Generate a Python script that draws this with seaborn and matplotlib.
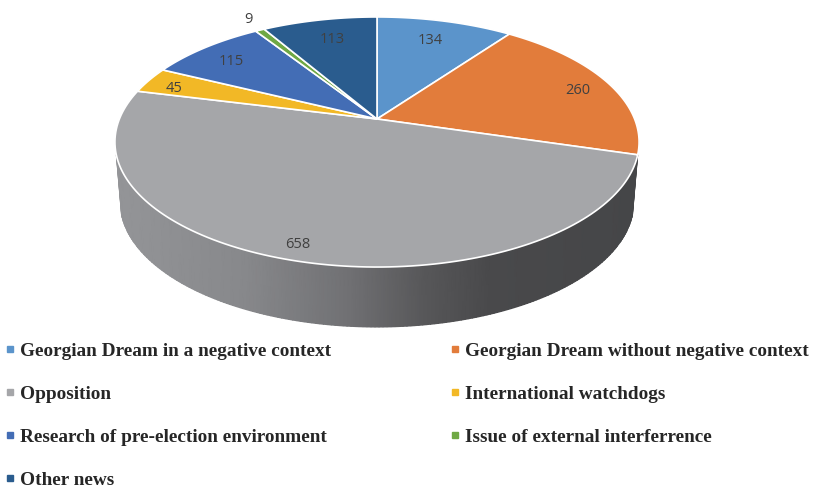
import numpy as np
import matplotlib
matplotlib.use("Agg")
import matplotlib.pyplot as plt
from matplotlib.colors import LinearSegmentedColormap
from matplotlib.lines import Line2D
from matplotlib.path import Path
from matplotlib.transforms import Affine2D, Transform
import seaborn as sns

categories = ["Georgian Dream in a negative context", "Georgian Dream without negative context",
              "Opposition", "International watchdogs", "Research of pre-election environment",
              "Issue of external interferrence", "Other news"]
values = [134, 260, 658, 45, 115, 9, 113]
slice_colors = ["#5B94CB", "#E27C3B", "#A5A6A9", "#F2B826", "#436DB5", "#6FA844", "#2A5C8E"]

# layout of the tilted disc, in pixels
cx, cy = 377, 119
rx, ry = 257.6, 120.8
tilt = 0.184
depth = 60
label_r = [0.79, 0.86, 0.88, 0.87, 0.83, 1.14, 0.76]
label_nudge = [(-2, 1), (1, 3), (-9, 4), (-3, 4), (0, 3), (2, 0), (1, -1)]


def project(u, v):
    w = 1 + tilt * v
    return cx + rx * u / w, cy - ry * v / w


class Tilted(Transform):
    input_dims = 2
    output_dims = 2

    def transform_non_affine(self, xy):
        xy = np.asarray(xy, dtype=float)
        x, y = project(xy[:, 0], xy[:, 1])
        return np.column_stack([x, y])

    def transform_path_non_affine(self, path):
        # flatten the arc first, bezier control points do not survive the perspective
        big = Affine2D().scale(2000).transform_path(path)
        poly = big.to_polygons(closed_only=False)[0] / 2000
        flat = Path(poly).interpolated(6)
        return Path(self.transform_non_affine(flat.vertices))


sns.set_theme(style="white")
plt.rcParams["font.family"] = ["Open Sans", "DejaVu Sans"]
palette = sns.color_palette(slice_colors)

fig, ax = plt.subplots(figsize=(8.16, 4.88), dpi=100)
fig.subplots_adjust(left=0, right=1, top=1, bottom=0)

# side wall of the disc
side = np.arccos(-0.28)
phi = np.linspace(side, 2 * np.pi - side, 200)
tx, ty = project(np.sin(phi), np.cos(phi))
bx = cx + (tx - cx) * 0.98
by = ty + depth
X = np.vstack([tx, bx])
Y = np.vstack([ty, by])
wall = LinearSegmentedColormap.from_list("wall", [(0, "#949598"), (0.25, "#87888b"), (0.45, "#707073"),
                                                  (0.6, "#565658"), (0.72, "#49494b"), (1, "#454648")])
ax.pcolormesh(X, Y, (X - 115) / 523, cmap=wall, vmin=0, vmax=1, shading="gouraud", zorder=1)

wedges, _ = ax.pie(values, colors=palette, startangle=90, counterclock=False, radius=1, frame=True,
                   wedgeprops={"edgecolor": "white", "linewidth": 1.2})
tilted = Tilted() + ax.transData
for w in wedges:
    w.set_transform(tilted)
    w.set_zorder(2)

ax.set_aspect("auto")
ax.set_xlim(0, 816)
ax.set_ylim(488, 0)
ax.axis("off")

total = sum(values)
done = 0
for val, r, (dx, dy) in zip(values, label_r, label_nudge):
    a = 2 * np.pi * (done + val / 2) / total
    done += val
    lx, ly = project(r * np.sin(a), r * np.cos(a))
    ax.text(lx + dx, ly + dy, str(val), ha="center", va="center", fontsize=10.5, color="#404040", zorder=3)

handles = [Line2D([], [], linestyle="none", marker="s", markersize=4, color=c) for c in palette]
# legend fills by column, the picture reads by row
order = [0, 2, 4, 6, 1, 3, 5]
ax.legend([handles[i] for i in order], [categories[i] for i in order], ncol=2, frameon=False,
          loc="upper left", bbox_to_anchor=(0.0, 0.298), borderaxespad=0, borderpad=0,
          prop={"family": "Liberation Serif", "weight": "bold", "size": 13.9}, labelcolor="#262626",
          labelspacing=1.32, handletextpad=0.05, handlelength=1.0, columnspacing=5.88)

fig.savefig("out.png", dpi=100)
